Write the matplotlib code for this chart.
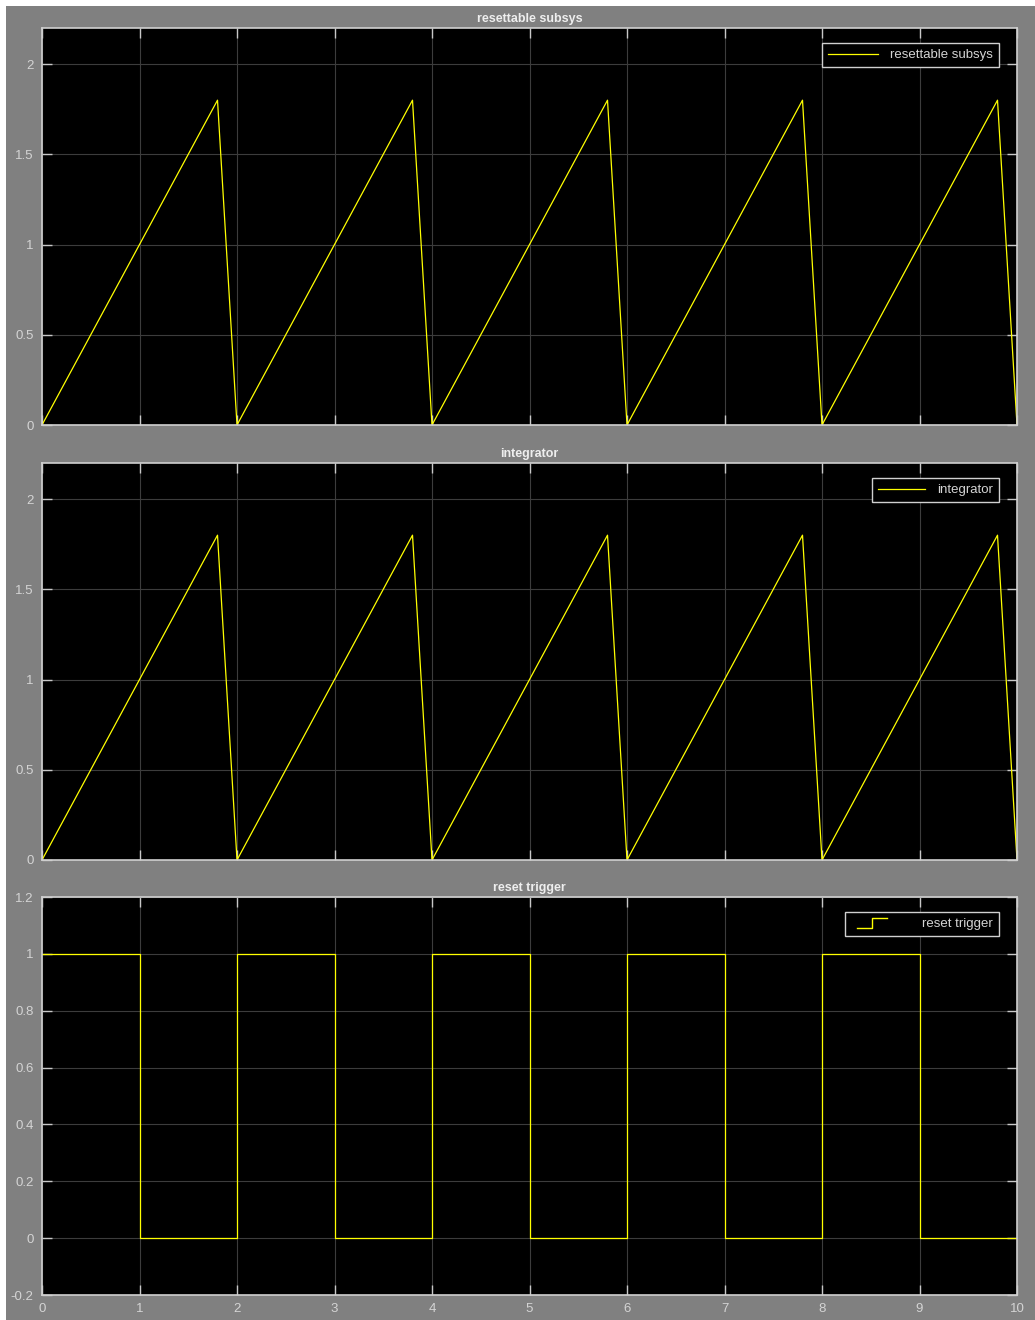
import matplotlib
matplotlib.use("Agg")
import matplotlib.pyplot as plt
from matplotlib.lines import Line2D
from matplotlib.legend_handler import HandlerBase
from matplotlib.patches import Rectangle

# sawtooth outputs (identical for the resettable subsystem and the integrator)
saw_t = [0, 1.8, 2, 3.8, 4, 5.8, 6, 7.8, 8, 9.8, 10]
saw_resettable = [0, 1.8, 0, 1.8, 0, 1.8, 0, 1.8, 0, 1.8, 0]
saw_integrator = [0, 1.8, 0, 1.8, 0, 1.8, 0, 1.8, 0, 1.8, 0]

# reset trigger square wave (held value from each time stamp)
trig_t = [0, 1, 2, 3, 4, 5, 6, 7, 8, 9, 10]
trig_y = [1, 0, 1, 0, 1, 0, 1, 0, 1, 0, 0]

x_ticks = [0, 1, 2, 3, 4, 5, 6, 7, 8, 9, 10]
saw_yticks = [0, 0.5, 1, 1.5, 2]
saw_ylabels = ["0", "0.5", "1", "1.5", "2"]
trig_yticks = [-0.2, 0, 0.2, 0.4, 0.6, 0.8, 1, 1.2]
trig_ylabels = ["-0.2", "0", "0.2", "0.4", "0.6", "0.8", "1", "1.2"]

GRAY = "#808080"
TXT = "#d4d4d4"
YEL = "#ffff00"
plt.rcParams["font.family"] = ["Liberation Sans", "DejaVu Sans"]


class StepHandler(HandlerBase):
    def create_artists(self, legend, orig, xd, yd, w, h, fs, trans):
        xs = [xd + 0.1 * w, xd + 0.35 * w, xd + 0.35 * w, xd + 0.6 * w]
        ys = [yd - 0.1 * h, yd - 0.1 * h, yd + 1.0 * h, yd + 1.0 * h]
        ln = Line2D(xs, ys, color=YEL, lw=1.0, transform=trans)
        return [ln]


fig = plt.figure(figsize=(10.35, 13.2), dpi=100, facecolor="white")
fig.patches.append(Rectangle((6 / 1035, 0), 1, 1 - 6 / 1320, transform=fig.transFigure,
                             facecolor=GRAY, edgecolor="none", zorder=-10))

L, W, H = 42 / 1035, 975 / 1035, 397 / 1320
ax1 = fig.add_axes([L, 1 - 425 / 1320, W, H])
ax2 = fig.add_axes([L, 1 - 860 / 1320, W, H])
ax3 = fig.add_axes([L, 1 - 1295 / 1320, W, 398 / 1320])


def style(ax, title, yt, yl, ylim, show_x):
    ax.set_facecolor("black")
    ax.set_xlim(0, 10)
    ax.set_ylim(*ylim)
    ax.set_xticks(x_ticks)
    ax.set_yticks(yt)
    ax.set_yticklabels(yl)
    if not show_x:
        ax.set_xticklabels([])
    ax.grid(True, color="#3c3c3c", lw=0.8)
    ax.set_axisbelow(True)
    ax.tick_params(direction="in", length=7, width=1, color="#c8c8c8",
                   labelcolor=TXT, labelsize=9.5, top=True, right=True, pad=6)
    for s in ax.spines.values():
        s.set_color("#d0d0d0")
        s.set_linewidth(1.2)
    ax.set_title(title, color="#eeeeee", fontsize=9, fontweight="bold", pad=4)


style(ax1, "resettable subsys", saw_yticks, saw_ylabels, (0, 2.2), False)
style(ax2, "integrator", saw_yticks, saw_ylabels, (0, 2.2), False)
style(ax3, "reset trigger", trig_yticks, trig_ylabels, (-0.2, 1.2), True)

ax1.plot(saw_t, saw_resettable, color=YEL, lw=0.9, label="resettable subsys")
ax2.plot(saw_t, saw_integrator, color=YEL, lw=0.9, label="integrator")
ax3.step(trig_t, trig_y, where="post", color=YEL, lw=0.9, label="reset trigger")


def legend(ax, handler=None, hl=3.8):
    kw = {}
    if handler:
        kw["handler_map"] = {ax.lines[0]: handler}
    lg = ax.legend(loc="upper right", bbox_to_anchor=(1 - 18 / 975, 1 - 15 / 397),
                   borderaxespad=0, fontsize=9.5, frameon=True, fancybox=False,
                   facecolor="black", edgecolor="#d0d0d0", labelcolor=TXT,
                   handlelength=hl, handletextpad=0.9, borderpad=0.45, **kw)
    lg.get_frame().set_linewidth(1.0)
    lg.get_frame().set_alpha(1)


legend(ax1)
legend(ax2, hl=3.6)
legend(ax3, StepHandler(), hl=4.5)

fig.savefig("out.png", dpi=100, facecolor=fig.get_facecolor())
